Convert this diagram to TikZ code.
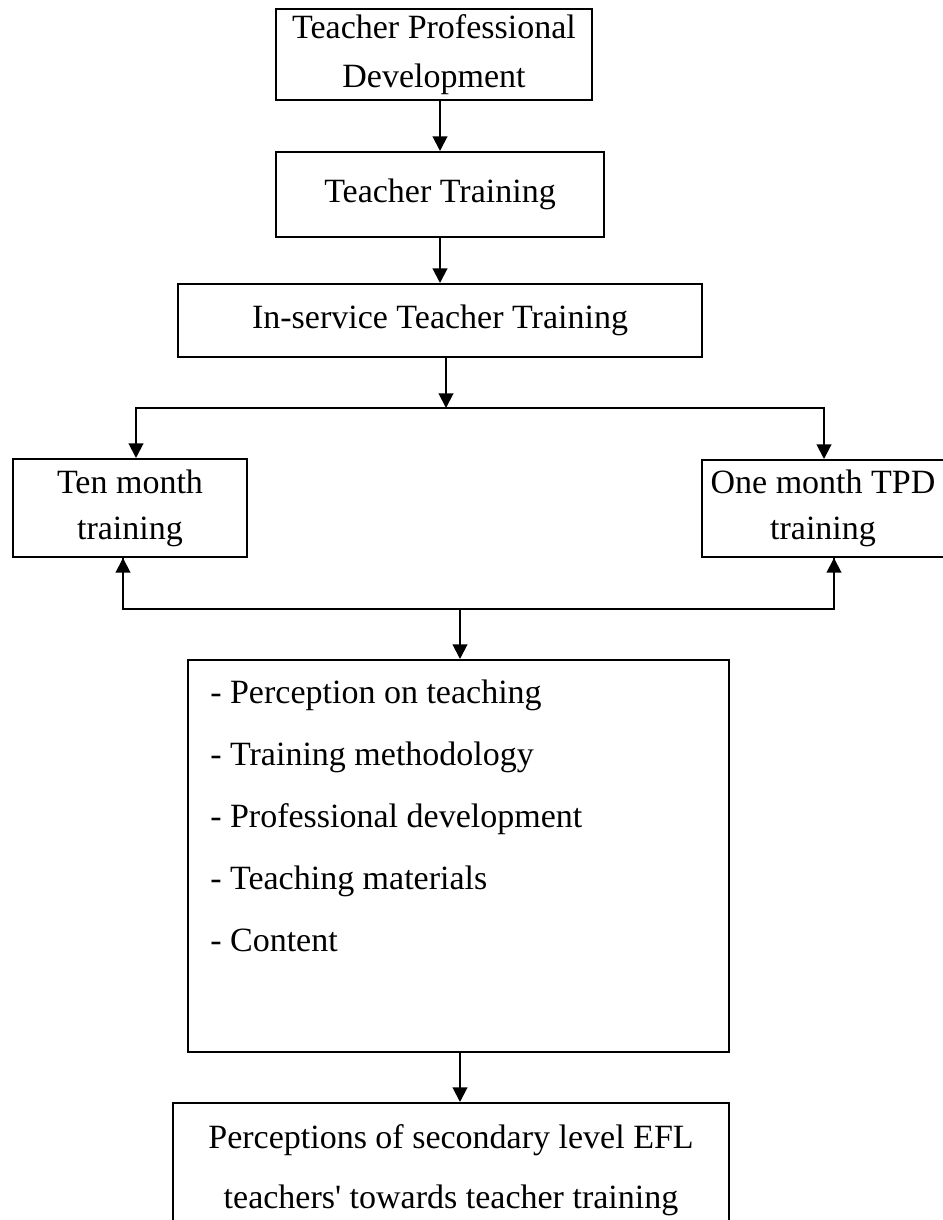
\documentclass[tikz,border=0pt]{standalone}
\usepackage{fontspec}
\setmainfont{Liberation Serif}[Ligatures=TeXOff]
\usetikzlibrary{arrows.meta,calc}
\begin{document}
\begin{tikzpicture}[x=0.75pt,y=-0.75pt,
  box/.style={draw, line width=1.5pt, inner sep=0pt, align=center},
  txt/.style={font=\fontsize{25.5pt}{#1}\selectfont},
  arr/.style={line width=1.5pt, -{Triangle[length=11pt,width=11pt]}},
  line/.style={line width=1.5pt}]
\useasboundingbox (0,0) rectangle (942,1220);

\node[box, txt=36.75pt, minimum width=237pt, minimum height=68.25pt] (b1) at (434,54.5)
  {Teacher Professional\\Development};
\node[box, txt=36.75pt, minimum width=246pt, minimum height=63.75pt] (b2) at (440,194.5)
  {Teacher Training};
\node[box, txt=36.75pt, minimum width=393pt, minimum height=54.75pt] (b3) at (440,320.5)
  {In-service Teacher Training};
\node[box, txt=34.5pt, minimum width=175.5pt, minimum height=73.5pt] (b4) at (130,508)
  {Ten month\\training};
\node[box, txt=34.5pt, minimum width=181.5pt, minimum height=72.75pt] (b5) at (823,508.5)
  {One month TPD\\training};
\node[box, minimum width=405.75pt, minimum height=294pt] (b6) at (458.5,856) {};
\node[txt=46.5pt, align=left, inner sep=0pt, anchor=north west] (b6t) at (210,680)
  {- Perception on teaching\\- Training methodology\\- Professional development\\- Teaching materials\\- Content};
\node[box, txt=45pt, minimum width=417pt, minimum height=100.5pt] (b7) at (451,1170)
  {Perceptions of secondary level EFL\\teachers' towards teacher training};

\coordinate (j1) at (446,408);
\coordinate (j2) at (460,609);

\draw[arr] (b2.north |- b1.south) -- (b2.north);
\draw[arr] (b2.south) -- (b2.south |- b3.north);
\draw[arr] (b3.south -| j1) -- (j1);
\draw[arr] (j1) -| ($(b4.north)+(6,0)$);
\draw[arr] (j1) -| ($(b5.north)+(1,0)$);
\draw[line] ($(b4.south)+(-7,0)$) |- (j2);
\draw[line] ($(b5.south)+(11,0)$) |- (j2);
\draw[arr] ($(b4.south)+(-7,52)$) -- ($(b4.south)+(-7,0)$);
\draw[arr] ($(b5.south)+(11,52)$) -- ($(b5.south)+(11,0)$);
\draw[arr] (j2) -- (j2 |- b6.north);
\draw[arr] (b6.south -| j2) -- (j2 |- b7.north);
\end{tikzpicture}
\end{document}
